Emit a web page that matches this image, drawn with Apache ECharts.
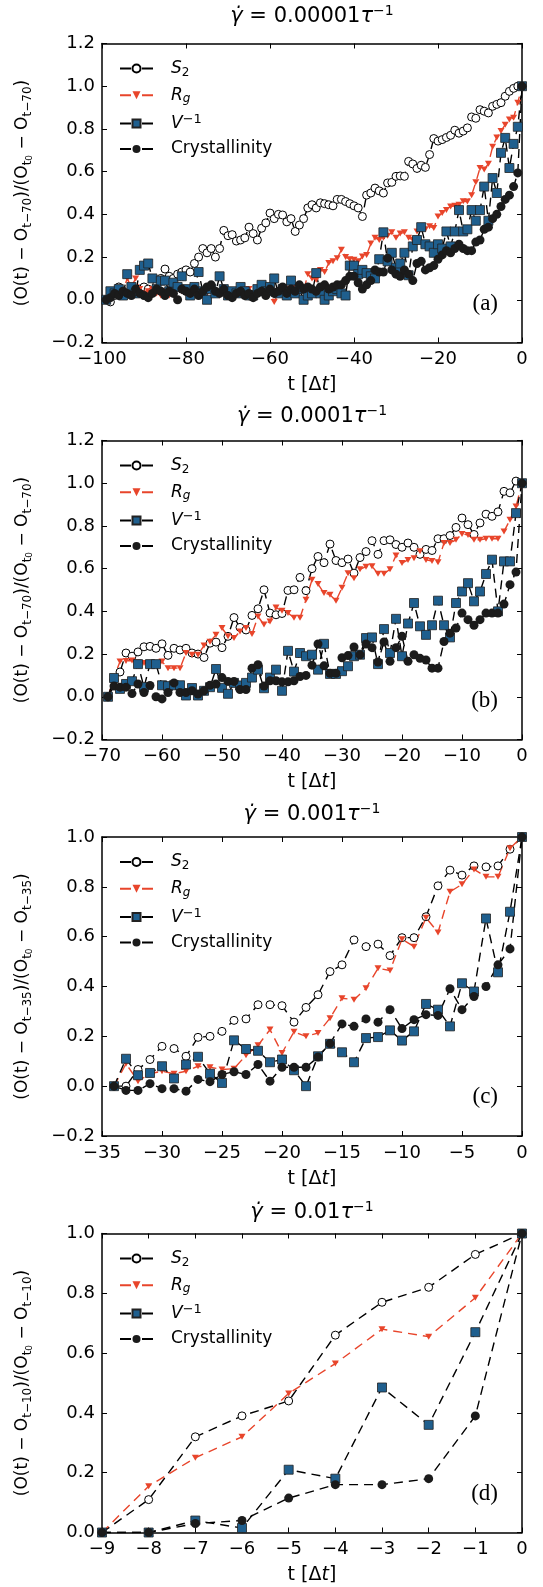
<!DOCTYPE html>
<html>
<head>
<meta charset="utf-8">
<script src="https://cdn.jsdelivr.net/npm/echarts@6/dist/echarts.min.js"></script>
<style>
  html, body { margin: 0; padding: 0; background: #fff; }
  #chart { width: 543px; height: 1587px; }
</style>
</head>
<body>
<div id="chart"></div>
<script>
// first time step of each panel (one point per step up to t = 0)
var tStartA = -99, tStartB = -69, tStartC = -34, tStartD = -9;

// panel (a), shear rate 0.00001
var s2A = [
  0.0, -0.01, 0.02, 0.06, 0.04, 0.03, 0.05, 0.03, 0.05, 0.06,
  0.05, 0.04, 0.07, 0.1, 0.144, 0.11, 0.1, 0.12, 0.13, 0.14,
  0.13, 0.17, 0.2, 0.24, 0.22, 0.24, 0.2, 0.24, 0.325, 0.3,
  0.305, 0.275, 0.28, 0.29, 0.34, 0.31, 0.28, 0.335, 0.36, 0.406,
  0.38, 0.4, 0.397, 0.365, 0.38, 0.32, 0.35, 0.38, 0.43, 0.445,
  0.43, 0.454, 0.45, 0.445, 0.44, 0.47, 0.47, 0.46, 0.45, 0.44,
  0.43, 0.39, 0.49, 0.5, 0.523, 0.51, 0.5, 0.547, 0.55, 0.578,
  0.58, 0.578, 0.648, 0.636, 0.615, 0.63, 0.62, 0.68, 0.755, 0.743,
  0.75, 0.76, 0.77, 0.794, 0.78, 0.79, 0.805, 0.856, 0.85, 0.89,
  0.883, 0.875, 0.906, 0.915, 0.923, 0.953, 0.976, 0.99, 1.0, 1.0
];
var rgA = [
  0.0, 0.02, 0.03, 0.05, 0.04, 0.1, 0.06, 0.1, 0.05, 0.03,
  0.04, 0.05, 0.03, 0.02, 0.04, 0.02, 0.05, 0.06, 0.04, 0.03,
  0.05, 0.03, 0.04, 0.02, 0.03, 0.05, 0.04, 0.02, 0.03, 0.04,
  0.03, 0.02, 0.04, 0.03, 0.05, 0.03, 0.02, 0.04, 0.05, 0.04,
  -0.01, 0.03, 0.04, 0.05, 0.04, 0.06, 0.05, 0.04, 0.12, 0.1,
  0.094, 0.14, 0.13, 0.172, 0.18, 0.195, 0.234, 0.2, 0.19, 0.188,
  0.18, 0.203, 0.21, 0.263, 0.29, 0.28, 0.29, 0.3, 0.316, 0.29,
  0.31, 0.316, 0.29, 0.281, 0.32, 0.33, 0.33, 0.344, 0.336, 0.39,
  0.406, 0.42, 0.437, 0.44, 0.445, 0.461, 0.46, 0.49, 0.55, 0.617,
  0.61, 0.637, 0.716, 0.76, 0.79, 0.82, 0.844, 0.852, 0.923, 1.0
];
var vA = [
  0.0, 0.04, 0.03, 0.05, 0.02, 0.12, 0.06, 0.03, 0.14, 0.16,
  0.17, 0.1, 0.05, 0.09, 0.09, 0.04, 0.08, 0.06, 0.11, 0.05,
  0.02, 0.06, 0.13, 0.04, 0.0, 0.05, 0.03, 0.11, 0.05, 0.02,
  0.04, 0.03, 0.06, 0.04, 0.02, 0.02, 0.05, 0.07, 0.04, 0.06,
  0.1, 0.03, 0.05, 0.02, 0.09, 0.03, 0.05, 0.0, 0.02, 0.03,
  0.125, 0.03, 0.0, 0.02, 0.04, 0.05, 0.03, 0.02, 0.16, 0.16,
  0.12, 0.14, 0.125, 0.11, 0.1, 0.19, 0.316, 0.18, 0.22, 0.15,
  0.17, 0.22, 0.115, 0.25, 0.28, 0.34, 0.26, 0.25, 0.22, 0.26,
  0.24, 0.32, 0.25, 0.32, 0.42, 0.32, 0.33, 0.42, 0.37, 0.42,
  0.53, 0.37, 0.57, 0.5, 0.688, 0.758, 0.617, 0.73, 0.81, 1.0
];
var crA = [
  0.0, 0.01, 0.03, 0.02, 0.04, 0.03, 0.02, 0.05, 0.03, 0.02,
  0.01, 0.03, 0.05, 0.04, 0.02, 0.04, 0.03, 0.0, 0.05, 0.04,
  0.03, 0.05, 0.02, 0.04, 0.06, 0.07, 0.04, 0.03, 0.05, 0.02,
  0.01, 0.03, 0.04, 0.02, 0.03, 0.01, 0.03, 0.04, 0.02, 0.05,
  0.03, 0.04, 0.06, 0.03, 0.05, 0.04, 0.07, 0.05, 0.06, 0.05,
  0.04, 0.06, 0.07, 0.05, 0.06, 0.07, 0.07, 0.09, 0.11, 0.11,
  0.08, 0.05, 0.07, 0.09, 0.14, 0.13, 0.13, 0.195, 0.14, 0.12,
  0.11, 0.14, 0.12, 0.09, 0.17, 0.18, 0.14, 0.15, 0.16, 0.19,
  0.21, 0.23, 0.22, 0.24, 0.26, 0.24, 0.23, 0.23, 0.27, 0.28,
  0.33, 0.34, 0.38, 0.40, 0.437, 0.47, 0.49, 0.53, 0.594, 1.0
];

// panel (b), shear rate 0.0001
var s2B = [
  0.0, 0.08, 0.116, 0.205, 0.19, 0.21, 0.234, 0.236, 0.227, 0.248,
  0.194, 0.227, 0.219, 0.227, 0.205, 0.2, 0.184, 0.251, 0.256, 0.23,
  0.283, 0.371, 0.325, 0.313, 0.381, 0.412, 0.501, 0.392, 0.384, 0.39,
  0.498, 0.501, 0.559, 0.497, 0.6, 0.657, 0.628, 0.715, 0.638, 0.628,
  0.645, 0.579, 0.652, 0.68, 0.731, 0.667, 0.731, 0.735, 0.713, 0.70,
  0.72, 0.70, 0.667, 0.69, 0.685, 0.74, 0.74, 0.755, 0.793, 0.837,
  0.806, 0.76, 0.814, 0.855, 0.845, 0.866, 0.962, 0.955, 1.01, 1.0
];
var rgB = [
  0.0, 0.09, 0.165, 0.168, 0.17, 0.16, 0.158, 0.15, 0.152, 0.165,
  0.134, 0.134, 0.134, 0.205, 0.197, 0.197, 0.24, 0.258, 0.29, 0.322,
  0.283, 0.275, 0.306, 0.322, 0.294, 0.376, 0.338, 0.353, 0.418, 0.403,
  0.392, 0.37, 0.37, 0.454, 0.548, 0.528, 0.486, 0.478, 0.45, 0.51,
  0.579, 0.555, 0.597, 0.609, 0.611, 0.576, 0.576, 0.597, 0.662, 0.626,
  0.641, 0.649, 0.681, 0.641, 0.636, 0.63, 0.72, 0.72, 0.735, 0.762,
  0.758, 0.735, 0.735, 0.74, 0.74, 0.74, 0.774, 0.829, 0.891, 1.0
];
var vB = [
  0.0, 0.088, 0.037, 0.06, 0.073, 0.153, 0.045, 0.153, 0.153, 0.054,
  0.05, 0.054, 0.054, 0.006, 0.041, 0.006, 0.028, 0.045, 0.13, 0.042,
  0.014, 0.065, 0.053, 0.065, 0.09, 0.127, 0.04, 0.09, 0.127, 0.028,
  0.215, 0.118, 0.205, 0.19, 0.197, 0.127, 0.248, 0.107, 0.107, 0.12,
  0.143, 0.19, 0.197, 0.275, 0.278, 0.153, 0.317, 0.205, 0.365, 0.19,
  0.343, 0.439, 0.33, 0.29, 0.335, 0.45, 0.335, 0.278, 0.439, 0.493,
  0.532, 0.447, 0.493, 0.575, 0.642, 0.4, 0.634, 0.634, 0.86, 1.0
];
var crB = [
  0.0, 0.05, 0.045, 0.045, 0.015, 0.06, 0.02, 0.053, 0.0, -0.01,
  0.02, 0.065, 0.02, 0.02, 0.028, 0.013, 0.028, 0.054, 0.06, 0.09,
  0.072, 0.072, 0.034, 0.034, 0.134, 0.15, 0.05, 0.075, 0.075, 0.07,
  0.07, 0.075, 0.095, 0.1, 0.148, 0.247, 0.145, 0.11, 0.11, 0.183,
  0.193, 0.233, 0.197, 0.247, 0.23, 0.163, 0.257, 0.166, 0.23, 0.283,
  0.166, 0.197, 0.18, 0.172, 0.134, 0.134, 0.259, 0.298, 0.322, 0.392,
  0.361, 0.335, 0.361, 0.392, 0.392, 0.392, 0.434, 0.525, 0.584, 1.0
];

// panel (c), shear rate 0.001
var s2C = [
  0.0, 0.0, 0.067, 0.107, 0.16, 0.151, 0.12, 0.196, 0.2, 0.22,
  0.264, 0.27, 0.327, 0.327, 0.323, 0.257, 0.316, 0.367, 0.46, 0.487,
  0.587, 0.56, 0.57, 0.524, 0.596, 0.596, 0.68, 0.804, 0.867, 0.847,
  0.884, 0.88, 0.884, 0.951, 1.0
];
var rgC = [
  0.0, 0.09, 0.02, 0.05, 0.06, 0.05, 0.06, 0.08, 0.076, 0.067,
  0.07, 0.124, 0.164, 0.227, 0.133, 0.218, 0.2, 0.213, 0.273, 0.353,
  0.347, 0.393, 0.473, 0.464, 0.59, 0.56, 0.676, 0.617, 0.78, 0.81,
  0.87, 0.84, 0.84, 0.955, 1.0
];
var vC = [
  0.0, 0.11, 0.044, 0.053, 0.08, 0.031, 0.087, 0.118, 0.05, 0.013,
  0.184, 0.149, 0.142, 0.096, 0.107, 0.064, 0.0, 0.12, 0.17, 0.136,
  0.096, 0.193, 0.197, 0.224, 0.183, 0.22, 0.33, 0.307, 0.24, 0.413,
  0.38, 0.673, 0.457, 0.7, 1.0
];
var crC = [
  0.0, -0.017, -0.017, 0.01, -0.01, -0.01, -0.02, 0.027, 0.018, 0.047,
  0.058, 0.047, 0.087, 0.02, 0.076, 0.076, 0.076, 0.117, 0.171, 0.25,
  0.24, 0.27, 0.257, 0.307, 0.231, 0.267, 0.287, 0.284, 0.391, 0.307,
  0.36, 0.4, 0.487, 0.551, 1.0
];

// panel (d), shear rate 0.01
var s2D = [0.0, 0.11, 0.32, 0.39, 0.44, 0.66, 0.77, 0.82, 0.93, 1.0];
var rgD = [0.0, 0.155, 0.25, 0.32, 0.465, 0.565, 0.68, 0.655, 0.785, 1.0];
var vD = [0.0, 0.0, 0.04, 0.015, 0.21, 0.18, 0.485, 0.36, 0.67, 1.0];
var crD = [0.0, 0.0, 0.03, 0.04, 0.115, 0.16, 0.16, 0.18, 0.39, 1.0];

var panels = [
  { tag: '(a)', rate: '0.00001', norm: 't−70', t0: tStartA, x: [-100, 0, 20], y: [-0.2, 1.2, 0.2], s2: s2A, rg: rgA, v: vA, cr: crA },
  { tag: '(b)', rate: '0.0001', norm: 't−70', t0: tStartB, x: [-70, 0, 10], y: [-0.2, 1.2, 0.2], s2: s2B, rg: rgB, v: vB, cr: crB },
  { tag: '(c)', rate: '0.001', norm: 't−35', t0: tStartC, x: [-35, 0, 5], y: [-0.2, 1.0, 0.2], s2: s2C, rg: rgC, v: vC, cr: crC },
  { tag: '(d)', rate: '0.01', norm: 't−10', t0: tStartD, x: [-9, 0, 1], y: [0, 1.0, 0.2], s2: s2D, rg: rgD, v: vD, cr: crD }
];

var gridTops = [43.5, 440.5, 837, 1233.5];
var titleYs = [17, 417, 815, 1213];
var gridLeft = 102, gridW = 420, gridH = 299;

var RED = '#e8452b', BLUE = '#1f5f8e', DARK = '#1b1b1b';
var FONT = 'DejaVu Sans';

function pairs(t0, vals) {
  return vals.map(function (v, i) { return [t0 + i, v]; });
}
function minus(s) { return s.replace('-', '−'); }

var legendNames = {
  S2: '{sp| }{i|S}{sub|2}',
  Rg: '{sp| }{i|R}{subi|g}',
  Vinv: '{sp| }{i|V}{sup|−1}',
  Cryst: '{sp| }{n|Crystallinity}'
};
var legendRich = {
  sp: { width: 13 },
  n: { fontSize: 17, lineHeight: 20, color: '#000', fontFamily: FONT },
  i: { fontSize: 17, lineHeight: 20, color: '#000', fontStyle: 'italic', fontFamily: FONT },
  sub: { fontSize: 12, lineHeight: 10, verticalAlign: 'bottom', color: '#000', fontFamily: FONT },
  subi: { fontSize: 12, lineHeight: 10, verticalAlign: 'bottom', color: '#000', fontStyle: 'italic', fontFamily: FONT },
  sup: { fontSize: 13, lineHeight: 11, verticalAlign: 'top', color: '#000', fontFamily: FONT }
};
var nameRich = {
  n: { fontSize: 17, lineHeight: 22, color: '#000', fontFamily: FONT },
  s: { fontSize: 12, lineHeight: 10, verticalAlign: 'bottom', color: '#000', fontFamily: FONT },
  ss: { fontSize: 9, lineHeight: 6, verticalAlign: 'bottom', color: '#000', fontFamily: FONT }
};
var titleRich = {
  n: { fontSize: 21, lineHeight: 26, color: '#000', fontFamily: FONT },
  i: { fontSize: 21, lineHeight: 26, color: '#000', fontStyle: 'italic', fontFamily: FONT },
  sup: { fontSize: 14, lineHeight: 13, verticalAlign: 'top', color: '#000', fontFamily: FONT }
};

var option = {
  animation: false,
  backgroundColor: '#fff',
  textStyle: { fontFamily: FONT },
  grid: [], xAxis: [], yAxis: [], series: [], legend: [], graphic: []
};

var dash = [9, 6];
var tick = { inside: true, length: 5, lineStyle: { color: '#000', width: 1 } };
var axLine = { show: true, onZero: false, lineStyle: { color: '#000', width: 1.5 } };

panels.forEach(function (p, k) {
  var top = gridTops[k];
  option.grid.push({ left: gridLeft, top: top, width: gridW, height: gridH, outerBoundsMode: 'none' });

  var xBase = { gridIndex: k, type: 'value', min: p.x[0], max: p.x[1], interval: p.x[2], splitLine: { show: false }, axisLine: axLine, axisTick: tick };
  var yBase = { gridIndex: k, type: 'value', min: p.y[0], max: p.y[1], interval: p.y[2], splitLine: { show: false }, axisLine: axLine, axisTick: tick };

  option.xAxis.push(Object.assign({}, xBase, {
    position: 'bottom',
    axisLabel: { margin: 8, fontSize: 18, color: '#000', showMinLabel: true, showMaxLabel: true,
      formatter: function (v) { return minus(String(Math.round(v))); } },
    name: '{n|t [Δ}{i|t}{n|]}', nameLocation: 'middle', nameGap: 31,
    nameTextStyle: { rich: {
      n: { fontSize: 19, lineHeight: 24, color: '#000', fontFamily: FONT },
      i: { fontSize: 19, lineHeight: 24, color: '#000', fontStyle: 'italic', fontFamily: FONT } } }
  }));
  option.xAxis.push(Object.assign({}, xBase, { position: 'top', axisLabel: { show: false } }));

  option.yAxis.push(Object.assign({}, yBase, {
    position: 'left',
    axisLabel: { margin: 7, fontSize: 18, color: '#000', showMinLabel: true, showMaxLabel: true,
      formatter: function (v) { return minus((Math.abs(v) < 1e-9 ? 0 : v).toFixed(1)); } },
    name: '{n|(O(t) − O}{s|' + p.norm + '}{n|)/(O}{s|t}{ss|0}{n| − O}{s|' + p.norm + '}{n|)}',
    nameLocation: 'middle', nameRotate: 90, nameGap: 68,
    nameTextStyle: { rich: nameRich }
  }));
  option.yAxis.push(Object.assign({}, yBase, { position: 'right', axisLabel: { show: false } }));

  var xi = 2 * k;
  function line(name, vals, extra) {
    return Object.assign({
      type: 'line', name: name, xAxisIndex: xi, yAxisIndex: xi,
      data: pairs(p.t0, vals), showAllSymbol: true, emphasis: { disabled: true }
    }, extra);
  }
  option.series.push(line('S2', p.s2, {
    symbol: 'circle', symbolSize: 8,
    lineStyle: { color: '#000', width: 1.4, type: dash },
    itemStyle: { color: '#fff', borderColor: '#000', borderWidth: 1 }
  }));
  option.series.push(line('Rg', p.rg, {
    symbol: 'triangle', symbolRotate: 180, symbolSize: [7, 6],
    lineStyle: { color: RED, width: 1.4, type: dash },
    itemStyle: { color: RED }
  }));
  option.series.push(line('Vinv', p.v, {
    symbol: 'rect', symbolSize: 9,
    lineStyle: { color: '#000', width: 1.4, type: dash },
    itemStyle: { color: BLUE, borderColor: '#222', borderWidth: 0.8 }
  }));
  option.series.push(line('Cryst', p.cr, {
    symbol: 'circle', symbolSize: 9,
    lineStyle: { color: '#000', width: 1.4, type: dash },
    itemStyle: { color: DARK }
  }));

  option.legend.push({
    data: ['S2', 'Rg', 'Vinv', 'Cryst'],
    orient: 'vertical', left: 119, top: top + 16.5, padding: 0,
    itemWidth: 33, itemHeight: 10, itemGap: 8.3, selectedMode: false,
    lineStyle: { type: [11, 11] },
    formatter: function (n) { return legendNames[n]; },
    textStyle: { rich: legendRich }
  });

  option.graphic.push({
    type: 'text', silent: true,
    style: { text: '{i|γ̇}{n| = ' + p.rate + '}{i|τ}{sup|−1}', x: gridLeft + gridW / 2, y: titleYs[k],
      align: 'center', verticalAlign: 'middle', fontSize: 21, fontFamily: FONT, rich: titleRich }
  });
  option.graphic.push({
    type: 'text', silent: true,
    style: { text: p.tag, x: 498, y: top + gridH - 39, align: 'right', verticalAlign: 'middle',
      fontSize: 23, fontFamily: 'Liberation Serif', fill: '#000' }
  });
});

var myChart = echarts.init(document.getElementById('chart'));
myChart.setOption(option);
</script>
</body>
</html>
